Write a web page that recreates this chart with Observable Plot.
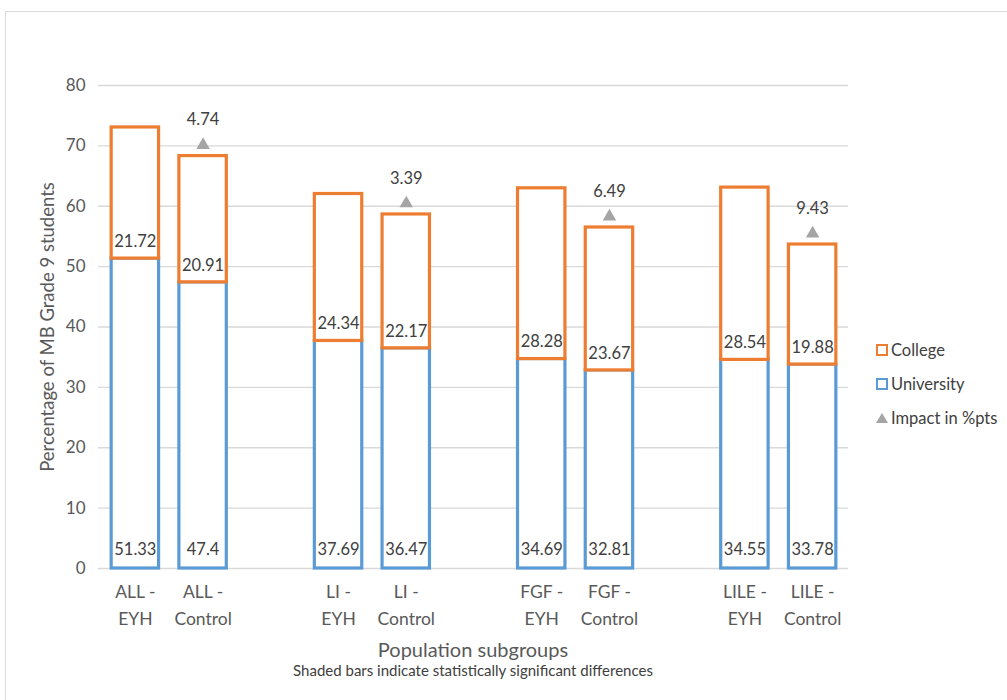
<!DOCTYPE html>
<html>
<head>
<meta charset="utf-8">
<script src="https://cdn.jsdelivr.net/npm/d3@7"></script>
<script src="https://cdn.jsdelivr.net/npm/@observablehq/plot@0.6"></script>
<style>
  body { margin: 0; background: #fff; font-family: Lato, "Open Sans", sans-serif; }
  #wrap { position: relative; width: 1007px; height: 700px; overflow: hidden; }
  #frame { position: absolute; left: 5px; top: 11px; width: 1020px; height: 720px;
           border: 1.5px solid #d9d9d9; box-sizing: border-box; }
  #chart { position: absolute; left: 0; top: 0; }
  .xtitle { position: absolute; left: 98px; width: 750px; text-align: center; color: #595959; white-space: nowrap; }
  #legend { position: absolute; left: 876px; top: 333px; color: #404040; font-size: 16.5px; }
  #legend .row { display: flex; align-items: center; height: 34px; }
  #legend .sw { width: 8px; height: 8px; border: 2.5px solid; margin-right: 3px; background: #fff; }
  #legend .tri { width: 0; height: 0; border-left: 6px solid transparent; border-right: 6px solid transparent;
                 border-bottom: 10px solid #a5a5a5; margin-right: 3px; }
</style>
</head>
<body>
<div id="wrap">
  <div id="frame"></div>
  <div id="chart"></div>
  <div class="xtitle" style="top:637px;font-size:20px;">Population subgroups</div>
  <div class="xtitle" style="top:661px;font-size:15px;color:#404040;">Shaded bars indicate statistically significant differences</div>
  <div id="legend"></div>
</div>
<script>
// Subgroups in display order; the blank slots separate the four populations
const subgroups = ["ALL -\nEYH", "ALL -\nControl", "LI -\nEYH", "LI -\nControl",
                   "FGF -\nEYH", "FGF -\nControl", "LILE -\nEYH", "LILE -\nControl"];
const slots = ["ALL -\nEYH", "ALL -\nControl", "gap1", "LI -\nEYH", "LI -\nControl", "gap2",
               "FGF -\nEYH", "FGF -\nControl", "gap3", "LILE -\nEYH", "LILE -\nControl"];
const university = [51.33, 47.4, 37.69, 36.47, 34.69, 32.81, 34.55, 33.78];
const college = [21.72, 20.91, 24.34, 22.17, 28.28, 23.67, 28.54, 19.88];

// Impact of the program (percentage points), shown above each control bar
const impactGroups = ["ALL -\nControl", "LI -\nControl", "FGF -\nControl", "LILE -\nControl"];
const impact = [4.74, 3.39, 6.49, 9.43];

const series = ["University", "College"];
const colors = ["#5b9bd5", "#ed7d31"];
const yTicks = [0, 10, 20, 30, 40, 50, 60, 70, 80];

const rows = [];
subgroups.forEach((g, i) => {
  rows.push({group: g, type: "University", value: university[i]});
  rows.push({group: g, type: "College", value: college[i]});
});
const impactRows = impactGroups.map((g, i) => {
  const k = subgroups.indexOf(g);
  return {group: g, impact: impact[i], total: university[k] + college[k]};
});

const textColor = "#404040";
const labelSize = 16.5;

const chart = Plot.plot({
  width: 1007,
  height: 700,
  marginTop: 85,
  marginBottom: 132,
  marginLeft: 98,
  marginRight: 159,
  style: {fontFamily: "Lato, 'Open Sans', sans-serif", color: textColor, background: "transparent"},
  x: {domain: slots, paddingInner: 0.3, paddingOuter: 0.15, insetLeft: 3, insetRight: 2, round: false, label: null},
  y: {domain: [0, 80], ticks: yTicks, label: null},
  color: {domain: series, range: colors},
  marks: [
    Plot.ruleY(yTicks, {stroke: "#d9d9d9", strokeWidth: 1.3}),
    Plot.axisY({ticks: yTicks, tickSize: 0, tickPadding: 13, fontSize: 17, color: "#595959", label: null}),
    Plot.axisY({ticks: [], tickSize: 0, fontSize: 18.5, color: "#595959",
                label: "Percentage of MB Grade 9 students", labelAnchor: "center", labelArrow: "none",
                labelOffset: 58}),
    Plot.axisX({ticks: subgroups, tickSize: 0, tickPadding: 10, fontSize: 17.5, lineHeight: 1.55,
                color: "#595959", label: null}),
    Plot.barY(rows, {x: "group", y: "value", z: "type", fill: "white",
                     stroke: d => d.type, strokeWidth: 3.2}),
    // University values along the bottom of each bar
    Plot.text(rows.filter(d => d.type === "University"),
              {x: "group", y: 0, text: d => String(d.value), dy: -19, fontSize: labelSize, fill: textColor}),
    // College values just above the boundary with the university segment
    Plot.text(subgroups.map((g, i) => ({group: g, base: university[i], value: college[i]})),
              {x: "group", y: "base", text: d => String(d.value), dy: -17, fontSize: labelSize, fill: textColor}),
    // Impact markers and their labels
    Plot.dot(impactRows, {x: "group", y: "total", dy: -11, symbol: "triangle", r: 5, fill: "#a5a5a5"}),
    Plot.text(impactRows, {x: "group", y: "total", dy: -36, text: d => String(d.impact), fontSize: labelSize, fill: textColor})
  ]
});
document.getElementById("chart").appendChild(chart);

// Legend
const legend = document.getElementById("legend");
[["College", colors[1]], ["University", colors[0]]].forEach(([name, c]) => {
  const row = document.createElement("div");
  row.className = "row";
  row.innerHTML = `<span class="sw" style="border-color:${c}"></span><span>${name}</span>`;
  legend.appendChild(row);
});
const imp = document.createElement("div");
imp.className = "row";
imp.innerHTML = `<span class="tri"></span><span>Impact in %pts</span>`;
legend.appendChild(imp);
</script>
</body>
</html>
